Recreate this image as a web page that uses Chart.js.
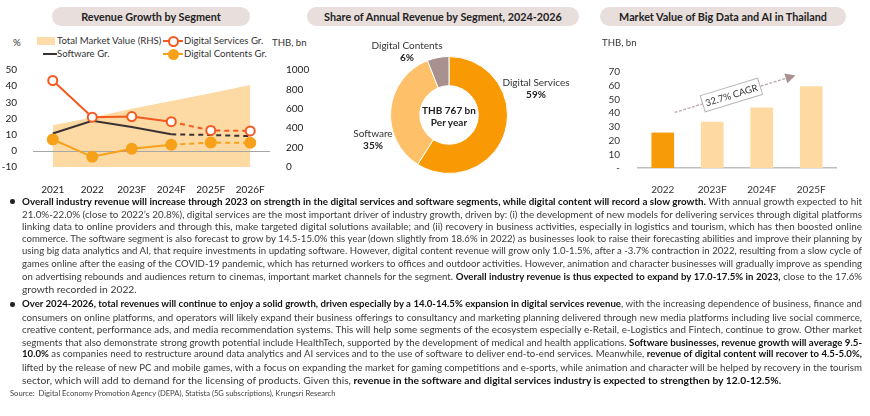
<!DOCTYPE html>
<html lang="en">
<head>
<meta charset="UTF-8" />
<title>Digital industry outlook</title>
<script src="https://cdn.jsdelivr.net/npm/chart.js@4.4.0/dist/chart.umd.min.js"></script>
<style>
  body { margin: 0; width: 870px; height: 416px; position: relative; overflow: hidden; background: #fff;
         font-family: Lato, "Open Sans", sans-serif; color: #3a3a3a; }
  .abs { position: absolute; white-space: nowrap; }
  .pill { position: absolute; top: 7px; height: 19px; line-height: 19px; border-radius: 10px; background: #e8dedc;
          font-weight: bold; font-size: 10.8px; text-align: center; color: #222; }
  .lg { position: absolute; font-size: 9.6px; color: #333; white-space: nowrap; line-height: 12px; }
  .sw { position: absolute; }
  .lab { position: absolute; font-size: 10px; text-align: center; transform: translateX(-50%); white-space: nowrap; line-height: 12px; color: #333; }
  .lab b { color: #222; }
  .txt { position: absolute; left: 22px; width: 840px; font-size: 10.3px; line-height: 12.6px; color: #3a3a3a; }
  .ln { white-space: nowrap; height: 12.6px; }
  .ln.j { text-align: justify; text-align-last: justify; }
  .txt b { color: #111; }
  .dot { position: absolute; left: 10px; width: 4.5px; height: 4.5px; border-radius: 50%; background: #222; }
  canvas { position: absolute; }
</style>
</head>
<body>
<div class="pill" style="left:52px;width:198px">Revenue Growth by Segment</div>
<div class="pill" style="left:307px;width:272px">Share of Annual Revenue by Segment, 2024-2026</div>
<div class="pill" style="left:600px;width:246px">Market Value of Big Data and AI in Thailand</div>

<!-- left legend -->
<div class="sw" style="left:37px;top:37px;width:18px;height:8px;background:#fddcab"></div>
<div class="lg" style="left:57px;top:35px">Total Market Value (RHS)</div>
<div class="sw" style="left:163px;top:40px;width:20px;height:2px;background:#f4591d"></div>
<div class="sw" style="left:168px;top:36px;width:7px;height:7px;border:2px solid #f4591d;border-radius:50%;background:#fff"></div>
<div class="lg" style="left:184px;top:35px">Digital Services Gr.</div>
<div class="sw" style="left:43px;top:53px;width:14px;height:2px;background:#3b3333"></div>
<div class="lg" style="left:57px;top:48px">Software Gr.</div>
<div class="sw" style="left:163px;top:53px;width:20px;height:2px;background:#f7a11a"></div>
<div class="sw" style="left:168px;top:49px;width:11px;height:11px;border-radius:50%;background:#f7a11a"></div>
<div class="lg" style="left:184px;top:48px">Digital Contents Gr.</div>
<div class="lg" style="left:13px;top:37px">%</div>
<div class="lg" style="left:272px;top:37px">THB, bn</div>

<canvas id="growth" width="310" height="140" style="left:0;top:56px"></canvas>

<canvas id="share" width="118" height="118" style="left:390px;top:56px"></canvas>
<div id="shareLabels"></div>
<div class="lab" style="left:449px;top:104px"><b>THB 767 bn<br>Per year</b></div>

<div class="lg" style="left:602px;top:37px">THB, bn</div>
<canvas id="bigdata" width="290" height="140" style="left:580px;top:56px"></canvas>

<div id="text"></div>
<div class="abs" style="left:10px;top:388px;font-size:7.6px;color:#444">Source:&nbsp; Digital Economy Promotion Agency (DEPA), Statista (5G subscriptions), Krungsri Research</div>

<script>
  // revenue growth by segment
  const years = ["2021", "2022", "2023F", "2024F", "2025F", "2026F"];
  const totalMarket = [430, 510, 600, 680, 760, 845];
  const servicesGr = [43.5, 20.8, 21.2, 18, 12.6, 12.3];
  const softwareGr = [10.7, 18.6, 14.8, 10.2, 9.8, 9.1];
  const contentsGr = [7, -3.7, 1.3, 3.8, 5.1, 5];

  // share of revenue 2024-2026
  const segments = ["Digital Services", "Software", "Digital Contents"];
  const shares = [59, 35, 6];

  // big data and AI market value
  const bdYears = ["2022", "2023F", "2024F", "2025F"];
  const bdValues = [25.6, 33.5, 43.8, 59.3];
  const cagrLabel = "32.7% CAGR";

  const pts = (arr) => arr.map((v, i) => ({ x: i, y: v }));
  const forecastDash = { borderDash: (c) => (c.p0DataIndex >= 3 ? [5, 4] : undefined) };

  const zeroLine = {
    id: "zeroLine",
    afterDatasetDraw(chart, args) {
      if (args.index !== 0) return;
      const { ctx, chartArea, scales } = chart;
      const y = Math.round(scales.y.getPixelForValue(0)) + 0.5;
      ctx.save();
      ctx.strokeStyle = "#a6a6a6";
      ctx.lineWidth = 1;
      ctx.beginPath();
      ctx.moveTo(chartArea.left, y);
      ctx.lineTo(chartArea.right, y);
      ctx.stroke();
      ctx.restore();
    },
  };

  Chart.defaults.font.family = "Lato, 'Open Sans', sans-serif";
  Chart.defaults.color = "#222";

  new Chart(document.getElementById("growth"), {
    type: "line",
    data: {
      datasets: [
        { label: "Total Market Value (RHS)", data: pts(totalMarket), yAxisID: "y2", fill: "start",
          backgroundColor: "#fdd9a4", borderWidth: 0, pointRadius: 0, order: 10 },
        { label: "Digital Services Gr.", data: pts(servicesGr), borderColor: "#f4591d", borderWidth: 2,
          pointRadius: 4.5, pointBackgroundColor: "#fff", pointBorderColor: "#f4591d", pointBorderWidth: 2,
          segment: forecastDash, order: 1 },
        { label: "Software Gr.", data: pts(softwareGr), borderColor: "#3b3333", borderWidth: 2,
          pointRadius: 0, segment: forecastDash, order: 3 },
        { label: "Digital Contents Gr.", data: pts(contentsGr), borderColor: "#f7a11a", borderWidth: 2,
          pointRadius: 5, pointBackgroundColor: "#f7a11a", pointBorderColor: "#f7a11a",
          segment: forecastDash, order: 2 },
      ],
    },
    options: {
      responsive: false,
      animation: false,
      layout: { padding: { top: 8 } },
      plugins: { legend: { display: false }, tooltip: { enabled: false } },
      scales: {
        x: {
          type: "linear", min: -0.5, max: 5.5,
          afterBuildTicks: (s) => { s.ticks = years.map((_, i) => ({ value: i })); },
          ticks: { callback: (v) => years[v], padding: 9, font: { size: 10 }, maxRotation: 0, autoSkip: false },
          grid: { display: false }, border: { display: false },
          afterFit: (s) => { s.height = 29; },
        },
        y: {
          position: "left", min: -10, max: 50,
          ticks: { stepSize: 10, padding: 8, font: { size: 10 }, autoSkip: false },
          grid: { display: false }, border: { display: false },
          afterFit: (s) => { s.width = 33; },
        },
        y2: {
          position: "right", min: 0, max: 1000,
          ticks: { stepSize: 200, padding: 8, font: { size: 10 }, autoSkip: false, callback: (v) => String(v) },
          grid: { display: false }, border: { display: false },
          afterFit: (s) => { s.width = 40; },
        },
      },
    },
    plugins: [zeroLine],
  });

  new Chart(document.getElementById("share"), {
    type: "doughnut",
    data: {
      labels: segments,
      datasets: [{ data: shares, backgroundColor: ["#f99a05", "#fec068", "#a8918e"], borderColor: "#fff", borderWidth: 1 }],
    },
    options: {
      responsive: false,
      animation: false,
      cutout: "50%",
      plugins: { legend: { display: false }, tooltip: { enabled: false } },
    },
  });

  // outside labels of the donut
  const labelSpots = [[536, 76], [373, 127], [407, 39]];
  document.getElementById("shareLabels").innerHTML = segments
    .map((s, i) => `<div class="lab" style="left:${labelSpots[i][0]}px;top:${labelSpots[i][1]}px">${s}<br><b>${shares[i]}%</b></div>`)
    .join("");

  const cagrArrow = {
    id: "cagrArrow",
    afterDatasetsDraw(chart) {
      const { ctx, scales: { x, y } } = chart;
      const x0 = x.getPixelForValue(0.24), y0 = y.getPixelForValue(40.5);
      const x1 = x.getPixelForValue(2.68), y1 = y.getPixelForValue(67.5);
      const a = Math.atan2(y1 - y0, x1 - x0);
      ctx.save();
      ctx.strokeStyle = "#b9a8a5";
      ctx.lineWidth = 1.3;
      ctx.setLineDash([3, 1.5]);
      ctx.beginPath();
      ctx.moveTo(x0, y0);
      ctx.lineTo(x1 - 8 * Math.cos(a), y1 - 8 * Math.sin(a));
      ctx.stroke();
      ctx.setLineDash([]);
      ctx.fillStyle = "#a8918e";
      ctx.translate(x1, y1);
      ctx.rotate(a);
      ctx.beginPath();
      ctx.moveTo(0, 0);
      ctx.lineTo(-10, -5);
      ctx.lineTo(-10, 5);
      ctx.closePath();
      ctx.fill();
      ctx.restore();

      const t = 0.47;
      const cx = x0 + (x1 - x0) * t, cy = y0 + (y1 - y0) * t;
      ctx.save();
      ctx.translate(cx, cy);
      ctx.rotate(a);
      ctx.fillStyle = "#fff";
      ctx.strokeStyle = "#b5b5b5";
      ctx.lineWidth = 1;
      ctx.fillRect(-30, -8.5, 60, 17);
      ctx.strokeRect(-30, -8.5, 60, 17);
      ctx.fillStyle = "#333";
      ctx.font = "9.5px Lato, 'Open Sans', sans-serif";
      ctx.textAlign = "center";
      ctx.textBaseline = "middle";
      ctx.fillText(cagrLabel, 0, 0.5);
      ctx.restore();
    },
  };

  new Chart(document.getElementById("bigdata"), {
    type: "bar",
    data: {
      labels: bdYears,
      datasets: [{ data: bdValues, backgroundColor: bdYears.map((_, i) => (i === 0 ? "#f89b08" : "#fed9a1")), barThickness: 22 }],
    },
    options: {
      responsive: false,
      animation: false,
      layout: { padding: { top: 8, right: 34 } },
      plugins: { legend: { display: false }, tooltip: { enabled: false } },
      scales: {
        x: {
          ticks: { padding: 8, font: { size: 10 }, color: "#333" },
          grid: { display: false },
          border: { color: "#bfbfbf", width: 1.5 },
          afterFit: (s) => { s.height = 28; },
        },
        y: {
          min: 0, max: 70,
          ticks: { stepSize: 10, padding: 10, font: { size: 10 }, color: "#333", autoSkip: false,
                   callback: (v) => (v === 0 ? "-" : String(v)) },
          grid: { display: false }, border: { display: false },
          afterFit: (s) => { s.width = 58; },
        },
      },
    },
    plugins: [cagrArrow],
  });

  // commentary
  const para1 = [
    "<b>Overall industry revenue will increase through 2023 on strength in the digital services and software segments, while digital content will record a slow growth.</b> With annual growth expected to hit",
    "21.0%-22.0% (close to 2022’s 20.8%), digital services are the most important driver of industry growth, driven by: (i) the development of new models for delivering services through digital platforms",
    "linking data to online providers and through this, make targeted digital solutions available; and (ii) recovery in business activities, especially in logistics and tourism, which has then boosted online",
    "commerce. The software segment is also forecast to grow by 14.5-15.0% this year (down slightly from 18.6% in 2022) as businesses look to raise their forecasting abilities and improve their planning by",
    "using big data analytics and AI, that require investments in updating software. However, digital content revenue will grow only 1.0-1.5%, after a -3.7% contraction in 2022, resulting from a slow cycle of",
    "games online after the easing of the COVID-19 pandemic, which has returned workers to offices and outdoor activities. However, animation and character businesses will gradually improve as spending",
    "on advertising rebounds and audiences return to cinemas, important market channels for the segment. <b>Overall industry revenue is thus expected to expand by 17.0-17.5% in 2023,</b> close to the 17.6%",
    "growth recorded in 2022.",
  ];
  const para2 = [
    "<b>Over 2024-2026, total revenues will continue to enjoy a solid growth, driven especially by a 14.0-14.5% expansion in digital services revenue</b>, with the increasing dependence of business, finance and",
    "consumers on online platforms, and operators will likely expand their business offerings to consultancy and marketing planning delivered through new media platforms including live social commerce,",
    "creative content, performance ads, and media recommendation systems. This will help some segments of the ecosystem especially e-Retail, e-Logistics and Fintech, continue to grow. Other market",
    "segments that also demonstrate strong growth potential include HealthTech, supported by the development of medical and health applications. <b>Software businesses, revenue growth will average 9.5-</b>",
    "<b>10.0%</b> as companies need to restructure around data analytics and AI services and to the use of software to deliver end-to-end services. Meanwhile, <b>revenue of digital content will recover to 4.5-5.0%,</b>",
    "lifted by the release of new PC and mobile games, with a focus on expanding the market for gaming competitions and e-sports, while animation and character will be helped by recovery in the tourism",
    "sector, which will add to demand for the licensing of products. Given this, <b>revenue in the software and digital services industry is expected to strengthen by 12.0-12.5%.</b>",
  ];

  function addPara(lines, top) {
    const box = document.createElement("div");
    box.className = "txt";
    box.style.top = top + "px";
    box.innerHTML = lines.map((l) => `<div class="ln"><span>${l}</span></div>`).join("");
    document.getElementById("text").appendChild(box);
    const dot = document.createElement("div");
    dot.className = "dot";
    dot.style.top = top + 4 + "px";
    document.getElementById("text").appendChild(dot);
    const rows = box.querySelectorAll(".ln");
    rows.forEach((row, i) => {
      const span = row.firstChild;
      let size = 10.3;
      while (span.offsetWidth > 840 && size > 7) {
        size -= 0.1;
        row.style.fontSize = size + "px";
      }
      if (i < rows.length - 1) row.classList.add("j");
    });
  }
  addPara(para1, 195);
  addPara(para2, 298);
</script>
</body>
</html>
